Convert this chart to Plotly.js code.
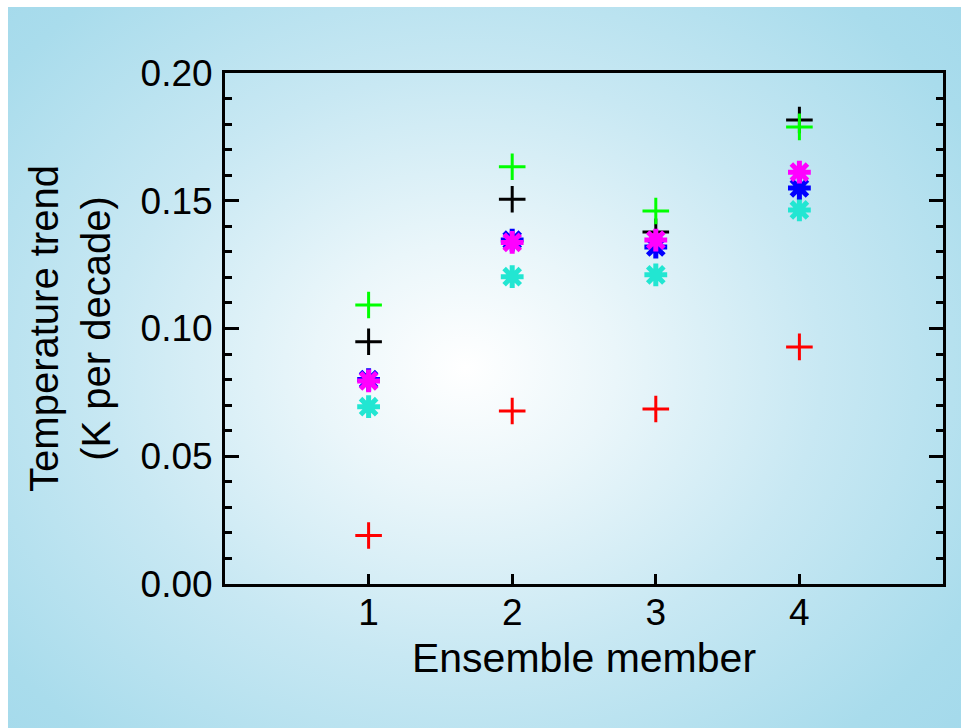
<!DOCTYPE html>
<html>
<head>
<meta charset="utf-8">
<script src="https://cdn.plot.ly/plotly-3.0.1.min.js"></script>
<style>
  html, body { margin: 0; padding: 0; background: #ffffff; width: 961px; height: 728px; overflow: hidden; }
  #bg { position: absolute; left: 8px; top: 7px; width: 953px; height: 721px;
        background: radial-gradient(ellipse 72% 78% at 48% 50%, #ffffff 0%, #eaf6fa 22%, #c8e8f3 52%, #a9dcec 85%, #a3d9eb 100%); }
  #chart { position: absolute; left: 0; top: 0; width: 961px; height: 728px; }
</style>
</head>
<body>
<div id="bg"></div>
<div id="chart"></div>
<script>
// Ensemble members
const members = [1, 2, 3, 4];
const xTickLabels = ["1", "2", "3", "4"];
const yTickVals = [0.00, 0.05, 0.10, 0.15, 0.20];
const yTickLabels = ["0.00", "0.05", "0.10", "0.15", "0.20"];

// Series values (K per decade)
const blackPlus   = [0.0948, 0.1506, 0.1378, 0.1816];
const greenPlus   = [0.1092, 0.1633, 0.1460, 0.1789];
const redPlus     = [0.0190, 0.0677, 0.0685, 0.0928];
const cyanStar    = [0.0694, 0.1203, 0.1210, 0.1464];
const blueStar    = [0.0800, 0.1346, 0.1319, 0.1550];
const magentaStar = [0.0795, 0.1337, 0.1346, 0.1612];

function plus(y, color) {
  return { x: members, y: y, type: 'scatter', mode: 'markers', hoverinfo: 'skip',
    marker: { symbol: 'cross-thin-open', size: 19, color: color, line: { color: color, width: 3 } } };
}
function star(y, color) {
  return { x: members, y: y, type: 'scatter', mode: 'markers', hoverinfo: 'skip',
    marker: { symbol: 'asterisk-open', size: 19, color: color, line: { color: color, width: 5 } } };
}

const data = [
  plus(blackPlus, '#000000'),
  plus(greenPlus, '#00ff00'),
  plus(redPlus, '#ff0000'),
  star(cyanStar, '#22e6d2'),
  star(blueStar, '#0000ff'),
  star(magentaStar, '#ff00ff')
];

const font = { family: 'Liberation Sans, Arial, Helvetica, sans-serif', color: '#000000' };

const layout = {
  width: 961, height: 728,
  margin: { l: 225, r: 18, t: 73, b: 144, pad: 0 },
  paper_bgcolor: 'rgba(0,0,0,0)',
  plot_bgcolor: 'rgba(0,0,0,0)',
  showlegend: false,
  font: Object.assign({ size: 37 }, font),
  xaxis: {
    range: [0, 5], tickvals: members, ticktext: xTickLabels,
    showgrid: false, zeroline: false,
    showline: true, linewidth: 3, linecolor: '#000000', mirror: true,
    ticks: 'inside', ticklen: 10, tickwidth: 3, tickcolor: '#000000',
    ticklabelstandoff: -6,
    tickfont: Object.assign({ size: 37 }, font),
    title: { text: 'Ensemble member', font: Object.assign({ size: 41 }, font), standoff: 11 }
  },
  yaxis: {
    range: [0, 0.20], tickvals: yTickVals, ticktext: yTickLabels,
    showgrid: false, zeroline: false,
    showline: true, linewidth: 3, linecolor: '#000000', mirror: 'allticks',
    ticks: 'inside', ticklen: 14, tickwidth: 3, tickcolor: '#000000',
    minor: { dtick: 0.01, ticks: 'inside', ticklen: 7, tickwidth: 3, tickcolor: '#000000', showgrid: false },
    ticklabelstandoff: 2,
    tickfont: Object.assign({ size: 37 }, font),
    title: { text: 'Temperature trend<br>(K per decade)', font: Object.assign({ size: 40 }, font), standoff: 18 }
  }
};

Plotly.newPlot('chart', data, layout, { staticPlot: true, displayModeBar: false });
</script>
</body>
</html>
